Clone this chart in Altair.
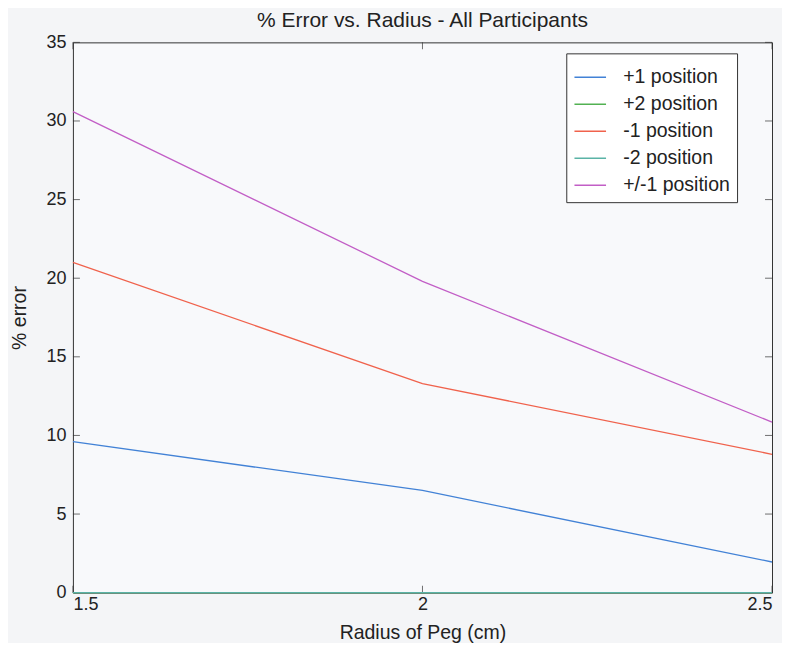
import altair as alt
import pandas as pd

radius = [1.5, 2.0, 2.5]
series_names = ["+1 position", "+2 position", "-1 position", "-2 position", "+/-1 position"]
plus1 = [9.6, 6.5, 1.95]
plus2 = [0.0, 0.0, 0.0]
minus1 = [21.0, 13.3, 8.8]
minus2 = [0.0, 0.0, 0.0]
pm1 = [30.6, 19.8, 10.85]
colors = ["#4282d6", "#52b152", "#f0624c", "#5ab3a6", "#c25ec6"]
x_ticks = [1.5, 2.0, 2.5]
y_ticks = [0, 5, 10, 15, 20, 25, 30, 35]

rows = []
for name, vals in zip(series_names, [plus1, plus2, minus1, minus2, pm1]):
    for r, v in zip(radius, vals):
        rows.append({"radius": r, "err": v, "series": name})
df = pd.DataFrame(rows)

W, H = 700, 551
font = "Liberation Sans"
xscale = alt.Scale(domain=[1.5, 2.5], nice=False, zero=False)
yscale = alt.Scale(domain=[0, 35], nice=False)

lines = alt.Chart(df).mark_line(strokeWidth=1.3, clip=False).encode(
    x=alt.X("radius:Q", scale=xscale,
            axis=alt.Axis(title="Radius of Peg (cm)", values=x_ticks, format="~g",
                          ticks=False, domain=False, grid=False, labelPadding=3,
                          titlePadding=10)),
    y=alt.Y("err:Q", scale=yscale,
            axis=alt.Axis(title="% error", values=y_ticks, ticks=False, domain=False,
                          grid=False, labelPadding=7, titlePadding=16)),
    color=alt.Color("series:N", scale=alt.Scale(domain=series_names, range=colors),
                    sort=series_names,
                    legend=alt.Legend(title=None, orient="none", legendX=494, legendY=11,
                                      symbolType="stroke", symbolSize=1000,
                                      symbolStrokeWidth=1.5, labelFontSize=19.5,
                                      labelFont=font, labelColor="#222",
                                      rowPadding=0, padding=7, labelOffset=16,
                                      strokeColor="#333", fillColor="#ffffff",
                                      labelLimit=300)),
    order=alt.Order("series_order:Q"),
).transform_calculate(
    series_order="indexof(" + str(series_names).replace("'", '"') + ", datum.series)"
)

ydf = pd.DataFrame({"v": y_ticks})
xdf = pd.DataFrame({"v": x_ticks})
tl = alt.Chart(ydf).mark_tick(color="#333", size=7, thickness=1).encode(
    y=alt.Y("v:Q", scale=yscale), x=alt.value(3.5))
tr = alt.Chart(ydf).mark_tick(color="#333", size=7, thickness=1).encode(
    y=alt.Y("v:Q", scale=yscale), x=alt.value(W - 3.5))
tb = alt.Chart(xdf).mark_tick(color="#333", size=7, thickness=1).encode(
    x=alt.X("v:Q", scale=xscale), y=alt.value(H - 3.5))
tt = alt.Chart(xdf).mark_tick(color="#333", size=7, thickness=1).encode(
    x=alt.X("v:Q", scale=xscale), y=alt.value(3.5))

chart = alt.layer(tl, tr, tb, tt, lines).properties(
    width=W, height=H,
    title=alt.TitleParams("% Error vs. Radius - All Participants", fontSize=21,
                          font=font, fontWeight="normal", color="#222", offset=2),
    padding={"left": 65, "top": 34, "right": 10, "bottom": 50},
    autosize=alt.AutoSizeParams(type="none"),
    background="#f4f5f7",
).configure_view(
    stroke="#333", strokeWidth=1, fill="#f8f9fb"
).configure_axis(
    labelFont=font, titleFont=font, labelFontSize=18, titleFontSize=19.5,
    labelColor="#222", titleColor="#222", titleFontWeight="normal"
)

chart.save("out.html", embed_options={"renderer": "svg", "actions": False})
